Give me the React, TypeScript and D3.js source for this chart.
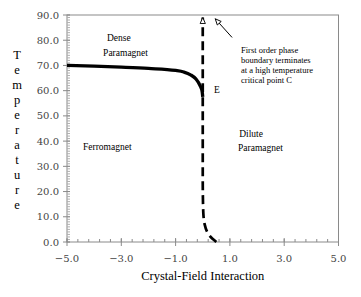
import React, { useEffect, useRef } from 'react'
import * as d3 from 'd3'

// phase boundary (crystal-field, temperature)
const firstOrder: [number, number][] = [
    [-5.0, 70.0], [-4.0, 69.7], [-3.0, 69.3], [-2.0, 68.8], [-1.0, 68.0],
    [-0.7, 67.4], [-0.45, 66.3], [-0.25, 64.6], [-0.1, 62.0], [-0.02, 59.5], [0.0, 57.5]
]
const secondOrder: [number, number][] = [
    [0.5, 0.0], [0.25, 2.5], [0.15, 4.3], [0.07, 7.0], [0.03, 10.0],
    [0.01, 15.0], [0.0, 25.0], [0.0, 89.0]
]
const xMajor = [-5, -3, -1, 1, 3, 5]
const yMajor = [0, 10, 20, 30, 40, 50, 60, 70, 80, 90]
const regionLabels: { text: string, x: number, y: number }[] = [
    { text: 'Dense', x: -3.53, y: 79.8 },
    { text: 'Paramagnet', x: -3.67, y: 73.8 },
    { text: 'Ferromagnet', x: -4.41, y: 36.5 },
    { text: 'E', x: 0.41, y: 59.1 },
    { text: 'Dilute', x: 1.34, y: 41.7 },
    { text: 'Paramagnet', x: 1.3, y: 36.1 }
]
const noteLines = ['First order phase', 'boundary terminates', 'at a high temperature', 'critical point C']
const noteArrow = { from: [1.08, 81.1], to: [0.46, 88.5] }

const App = () => {
    const svgRef = useRef<SVGSVGElement>(null)
    const width = 361
    const height = 297

    useEffect(() => {
        const svg: any = d3.select(svgRef.current)
        svg.selectAll('*').remove()

        const x = d3.scaleLinear([-5, 5], [67, 338.5])
        const y = d3.scaleLinear([0, 90], [242, 15])
        const grey = '#8a8a8a'

        const defs = svg.append('defs')
        defs.append('marker')
            .attr('id', 'open-arrow')
            .attr('viewBox', '0 0 10 10')
            .attr('refX', 9).attr('refY', 5)
            .attr('markerWidth', 7.5).attr('markerHeight', 7.5)
            .attr('markerUnits', 'userSpaceOnUse')
            .attr('orient', 'auto')
            .append('path')
            .attr('d', 'M1,1.5 L9,5 L1,8.5 Z')
            .attr('fill', 'white').attr('stroke', 'black').attr('stroke-width', 1.2)

        // frame
        svg.append('rect')
            .attr('x', x(-5)).attr('y', y(90))
            .attr('width', x(5) - x(-5)).attr('height', y(0) - y(90))
            .attr('fill', 'none').attr('stroke', grey).attr('stroke-width', 1)

        // ticks
        const g = svg.append('g').attr('stroke', grey).attr('stroke-width', 1)
        g.selectAll('.ymin').data(d3.range(0, 91, 1)).join('line')
            .attr('x1', x(-5)).attr('x2', x(-5) + 3)
            .attr('y1', (d: number) => y(d)).attr('y2', (d: number) => y(d))
            .attr('stroke', '#b0b0b0')
        g.selectAll('.ymaj').data(yMajor).join('line')
            .attr('x1', x(-5) - 4).attr('x2', x(-5) + 3)
            .attr('y1', (d: number) => y(d)).attr('y2', (d: number) => y(d))
        g.selectAll('.xmin').data(d3.range(-5, 5.001, 0.4)).join('line')
            .attr('x1', (d: number) => x(d)).attr('x2', (d: number) => x(d))
            .attr('y1', y(0)).attr('y2', y(0) - 3)
        g.selectAll('.xmaj').data(xMajor).join('line')
            .attr('x1', (d: number) => x(d)).attr('x2', (d: number) => x(d))
            .attr('y1', y(0) + 4).attr('y2', y(0) - 4)

        const tickFont = 'DejaVu Serif'
        svg.append('g').selectAll('text').data(yMajor).join('text')
            .attr('x', x(-5) - 8).attr('y', (d: number) => y(d) + 3.5)
            .attr('text-anchor', 'end')
            .attr('font-family', tickFont).attr('font-size', 10).attr('fill', '#444')
            .text((d: number) => d.toFixed(1))
        svg.append('g').selectAll('text').data(xMajor).join('text')
            .attr('x', (d: number) => x(d)).attr('y', y(0) + 20)
            .attr('text-anchor', 'middle')
            .attr('font-family', tickFont).attr('font-size', 10).attr('fill', '#444')
            .text((d: number) => d.toFixed(1).replace('-', '\u2212'))

        // titles
        svg.append('text')
            .attr('x', (x(-5) + x(5)) / 2).attr('y', 280)
            .attr('text-anchor', 'middle')
            .attr('font-family', 'Liberation Serif').attr('font-size', 12.5)
            .text('Crystal-Field Interaction')
        svg.append('g').selectAll('text').data('Temperature'.split('')).join('text')
            .attr('x', 17).attr('y', (_: string, i: number) => 59 + i * 15)
            .attr('text-anchor', 'middle')
            .attr('font-family', 'Liberation Serif').attr('font-size', 12.5)
            .text((d: string) => d)

        // boundaries
        const line = d3.line<[number, number]>().x(d => x(d[0])).y(d => y(d[1]))
        svg.append('path')
            .attr('d', line.curve(d3.curveMonotoneX)(firstOrder))
            .attr('fill', 'none').attr('stroke', 'black').attr('stroke-width', 3.3)
        svg.append('path')
            .attr('d', line.curve(d3.curveMonotoneY)(secondOrder))
            .attr('fill', 'none').attr('stroke', 'black').attr('stroke-width', 2.7)
            .attr('stroke-dasharray', '9,5')
            .attr('marker-end', 'url(#open-arrow)')

        // annotation arrow
        svg.append('line')
            .attr('x1', x(noteArrow.from[0])).attr('y1', y(noteArrow.from[1]))
            .attr('x2', x(noteArrow.to[0])).attr('y2', y(noteArrow.to[1]))
            .attr('stroke', 'black').attr('stroke-width', 1)
            .attr('marker-end', 'url(#open-arrow)')

        svg.append('g').selectAll('text').data(regionLabels).join('text')
            .attr('x', (d: any) => x(d.x)).attr('y', (d: any) => y(d.y))
            .attr('font-family', 'Liberation Serif').attr('font-size', 9.5)
            .text((d: any) => d.text)

        svg.append('g').selectAll('text').data(noteLines).join('text')
            .attr('x', x(1.41)).attr('y', (_: string, i: number) => 53 + i * 10)
            .attr('font-family', 'Liberation Serif').attr('font-size', 8.5)
            .text((d: string) => d)
    })

    return (
        <svg ref={svgRef} width={width} height={height}
            style={{ position: 'fixed', left: 0, top: 0, background: 'white' }}></svg>
    )
}

export default App
